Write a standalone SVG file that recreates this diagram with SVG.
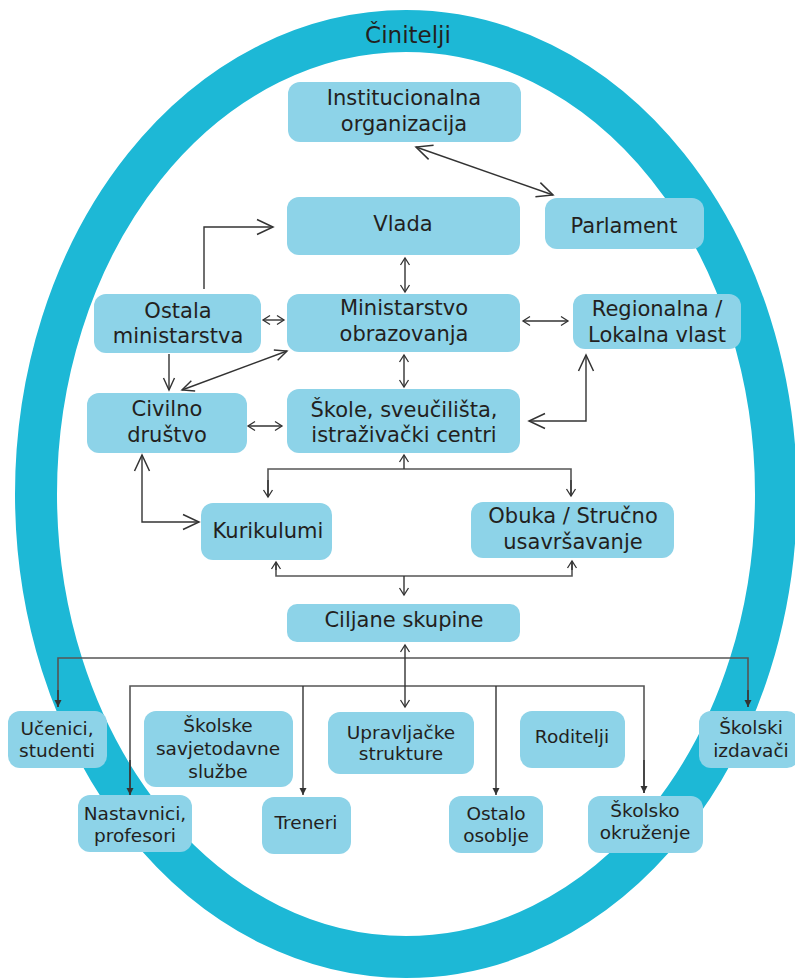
<svg xmlns="http://www.w3.org/2000/svg" width="795" height="978" viewBox="0 0 795 978">
<style>
.box{fill:#8dd3e8;}
.t{font-family:"DejaVu Sans",sans-serif;font-size:21px;fill:#231f20;text-anchor:middle;}
.s{font-family:"DejaVu Sans",sans-serif;font-size:18.5px;fill:#231f20;text-anchor:middle;}
.ln{fill:none;stroke:#333;stroke-width:1.4;}
.gl{fill:none;stroke:#555;stroke-width:1.6;}
</style>
<defs>
<marker id="os" viewBox="-10 -10 20 20" markerWidth="20" markerHeight="20" refX="0" refY="0" markerUnits="userSpaceOnUse" orient="auto-start-reverse"><path d="M-7,-4.5 L0,0 L-7,4.5" fill="none" stroke="#333" stroke-width="1.3"/></marker>
<marker id="om" viewBox="-15 -15 30 30" markerWidth="30" markerHeight="30" refX="0" refY="0" markerUnits="userSpaceOnUse" orient="auto-start-reverse"><path d="M-12,-5.5 L0,0 L-12,5.5" fill="none" stroke="#333" stroke-width="1.4"/></marker>
<marker id="ol" viewBox="-20 -20 40 40" markerWidth="40" markerHeight="40" refX="0" refY="0" markerUnits="userSpaceOnUse" orient="auto-start-reverse"><path d="M-16,-7.5 L0,0 L-16,7.5" fill="none" stroke="#333" stroke-width="1.5"/></marker>
<marker id="fs" viewBox="-10 -10 20 20" markerWidth="20" markerHeight="20" refX="0" refY="0" markerUnits="userSpaceOnUse" orient="auto"><path d="M-7,-3.5 L0,0 L-7,3.5 Z" fill="#333"/></marker>
</defs>
<rect width="795" height="978" fill="#fff"/>
<ellipse cx="406" cy="494" rx="370" ry="463" fill="none" stroke="#1db8d6" stroke-width="42"/>
<text x="408" y="43" class="t" style="font-size:23px">Činitelji</text>

<g id="connectors">
<line class="ln" x1="416" y1="147" x2="553" y2="195" marker-start="url(#ol)" marker-end="url(#ol)"/>
<polyline class="ln" points="204,289 204,227 273,227" marker-end="url(#ol)"/>
<line class="ln" x1="405" y1="258" x2="405" y2="292" marker-start="url(#os)" marker-end="url(#os)"/>
<line class="ln" x1="404" y1="355" x2="404" y2="387" marker-start="url(#os)" marker-end="url(#os)"/>
<line class="ln" x1="523" y1="321" x2="568" y2="321" marker-start="url(#os)" marker-end="url(#os)"/>
<line class="ln" x1="263" y1="320" x2="284" y2="320" marker-start="url(#os)" marker-end="url(#os)"/>
<line class="ln" x1="169" y1="354" x2="169" y2="390" marker-end="url(#om)"/>
<line class="ln" x1="182" y1="390" x2="287" y2="351" marker-start="url(#om)" marker-end="url(#om)"/>
<line class="ln" x1="248" y1="426" x2="282" y2="426" marker-start="url(#os)" marker-end="url(#os)"/>
<polyline class="ln" points="586,355 586,421 529,421" marker-start="url(#ol)" marker-end="url(#ol)"/>
<polyline class="ln" points="142,455 142,522 199,522" marker-start="url(#ol)" marker-end="url(#ol)"/>
<polyline class="gl" points="268,497 268,469 571,469 571,496"/>
<line class="ln" x1="268" y1="480" x2="268" y2="497" marker-end="url(#os)"/>
<line class="ln" x1="571" y1="480" x2="571" y2="496" marker-end="url(#os)"/>
<line class="ln" x1="404" y1="469" x2="404" y2="455" marker-end="url(#os)"/>
<polyline class="gl" points="276,562 276,576 572,576 572,561"/>
<line class="ln" x1="276" y1="570" x2="276" y2="562" marker-end="url(#os)"/>
<line class="ln" x1="572" y1="570" x2="572" y2="561" marker-end="url(#os)"/>
<line class="ln" x1="404" y1="576" x2="404" y2="595" marker-end="url(#os)"/>
<polyline class="gl" points="58,707 58,658 748,658 748,707"/>
<line class="ln" x1="58" y1="690" x2="58" y2="707" marker-end="url(#fs)"/>
<line class="ln" x1="748" y1="690" x2="748" y2="707" marker-end="url(#fs)"/>
<polyline class="gl" points="130,795 130,686 644,686 644,793"/>
<line class="ln" x1="130" y1="760" x2="130" y2="795" marker-end="url(#fs)"/>
<line class="ln" x1="644" y1="760" x2="644" y2="793" marker-end="url(#fs)"/>
<line class="ln" x1="303" y1="686" x2="303" y2="795" marker-end="url(#fs)"/>
<line class="ln" x1="496" y1="686" x2="496" y2="795" marker-end="url(#fs)"/>
<line class="ln" x1="405" y1="645" x2="405" y2="707" marker-start="url(#os)" marker-end="url(#os)"/>
</g>

<g id="n-institucionalna"><rect class="box" x="288" y="82" width="233" height="60" rx="12"/><text class="t" x="404" y="105">Institucionalna</text><text class="t" x="404" y="131">organizacija</text></g>
<g id="n-vlada"><rect class="box" x="287" y="197" width="233" height="58" rx="12"/><text class="t" x="403" y="231">Vlada</text></g>
<g id="n-parlament"><rect class="box" x="545" y="198" width="159" height="51" rx="12"/><text class="t" x="624" y="233">Parlament</text></g>
<g id="n-ministarstvo"><rect class="box" x="287" y="294" width="233" height="58" rx="12"/><text class="t" x="404" y="315">Ministarstvo</text><text class="t" x="404" y="341">obrazovanja</text></g>
<g id="n-regionalna"><rect class="box" x="573" y="294" width="168" height="55" rx="12"/><text class="t" x="657" y="316">Regionalna /</text><text class="t" x="657" y="342">Lokalna vlast</text></g>
<g id="n-ostala"><rect class="box" x="94" y="294" width="167" height="59" rx="12"/><text class="t" x="178" y="318">Ostala</text><text class="t" x="178" y="343">ministarstva</text></g>
<g id="n-civilno"><rect class="box" x="87" y="393" width="160" height="60" rx="12"/><text class="t" x="167" y="416">Civilno</text><text class="t" x="167" y="442">društvo</text></g>
<g id="n-skole"><rect class="box" x="287" y="389" width="233" height="64" rx="12"/><text class="t" x="404" y="417">Škole, sveučilišta,</text><text class="t" x="404" y="442">istraživački centri</text></g>
<g id="n-kurikulumi"><rect class="box" x="201" y="503" width="131" height="57" rx="12"/><text class="t" x="268" y="538">Kurikulumi</text></g>
<g id="n-obuka"><rect class="box" x="471" y="502" width="203" height="56" rx="12"/><text class="t" x="573" y="523">Obuka / Stručno</text><text class="t" x="573" y="549">usavršavanje</text></g>
<g id="n-ciljane"><rect class="box" x="287" y="604" width="233" height="38" rx="10"/><text class="t" x="404" y="627">Ciljane skupine</text></g>
<g id="n-ucenici"><rect class="box" x="8" y="711" width="99" height="57" rx="12"/><text class="s" x="57" y="735">Učenici,</text><text class="s" x="57" y="757">studenti</text></g>
<g id="n-savjetodavne"><rect class="box" x="144" y="711" width="149" height="76" rx="12"/><text class="s" x="218" y="732">Školske</text><text class="s" x="218" y="755">savjetodavne</text><text class="s" x="218" y="778">službe</text></g>
<g id="n-upravljacke"><rect class="box" x="328" y="712" width="146" height="62" rx="12"/><text class="s" x="401" y="739">Upravljačke</text><text class="s" x="401" y="760">strukture</text></g>
<g id="n-roditelji"><rect class="box" x="520" y="711" width="105" height="57" rx="12"/><text class="s" x="572" y="743">Roditelji</text></g>
<g id="n-izdavaci"><rect class="box" x="699" y="711" width="100" height="57" rx="12"/><text class="s" x="751" y="734">Školski</text><text class="s" x="751" y="757">izdavači</text></g>
<g id="n-nastavnici"><rect class="box" x="78" y="795" width="114" height="57" rx="12"/><text class="s" x="135" y="820">Nastavnici,</text><text class="s" x="135" y="842">profesori</text></g>
<g id="n-treneri"><rect class="box" x="262" y="797" width="89" height="57" rx="12"/><text class="s" x="306" y="829">Treneri</text></g>
<g id="n-ostalo"><rect class="box" x="449" y="796" width="94" height="57" rx="12"/><text class="s" x="496" y="820">Ostalo</text><text class="s" x="496" y="842">osoblje</text></g>
<g id="n-okruzenje"><rect class="box" x="588" y="796" width="115" height="57" rx="12"/><text class="s" x="645" y="817">Školsko</text><text class="s" x="645" y="839">okruženje</text></g>
</svg>
